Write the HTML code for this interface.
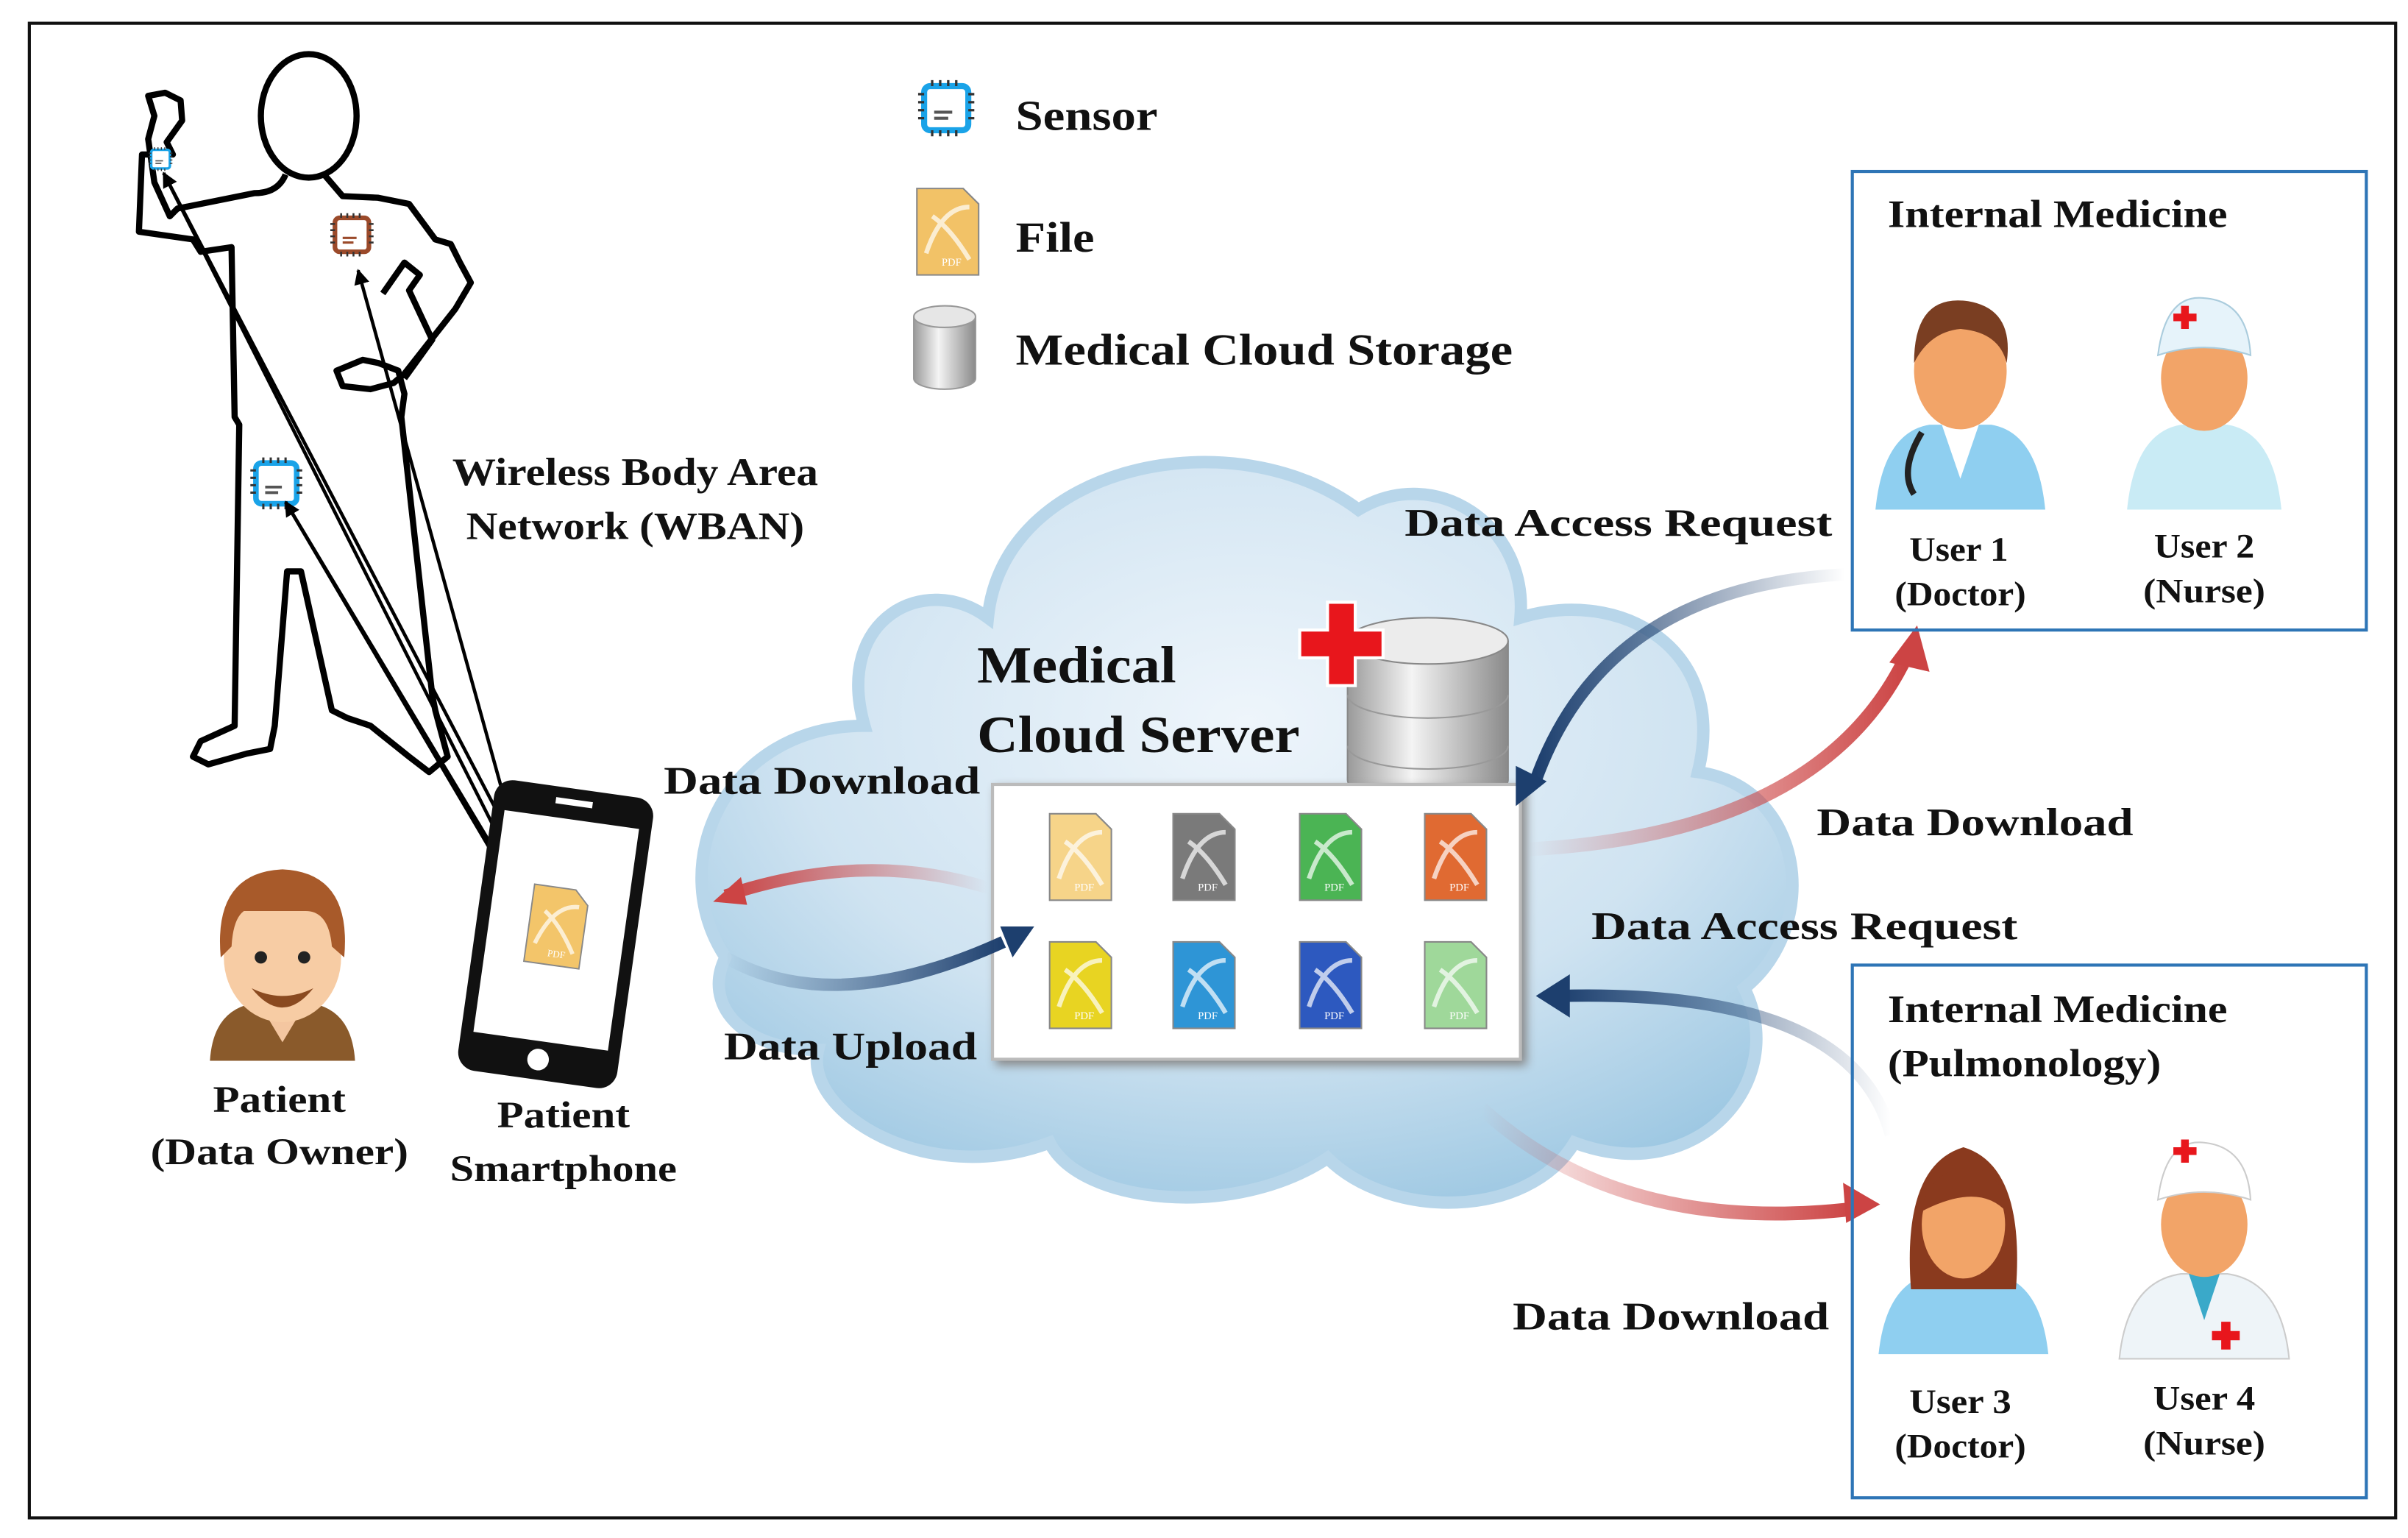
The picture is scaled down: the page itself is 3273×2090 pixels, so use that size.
<!DOCTYPE html>
<html><head><meta charset="utf-8">
<style>
html,body{margin:0;padding:0;background:#fff;}
svg{display:block;}
text{font-family:"Liberation Serif",serif;font-weight:bold;fill:#111;}
</style></head><body>
<svg width="3273" height="2090" viewBox="0 0 1560 996" xmlns="http://www.w3.org/2000/svg">
<defs>
<radialGradient id="cl" cx="0.5" cy="0.35" r="0.7">
<stop offset="0" stop-color="#eef5fb"/><stop offset="0.6" stop-color="#cfe3f1"/><stop offset="1" stop-color="#9cc7e2"/></radialGradient>
<linearGradient id="cyl" x1="0" x2="1"><stop offset="0" stop-color="#9a9a9a"/><stop offset="0.4" stop-color="#f4f4f4"/><stop offset="1" stop-color="#8a8a8a"/></linearGradient>
<linearGradient id="redR" x1="0" x2="1"><stop offset="0" stop-color="#c44" stop-opacity="0"/><stop offset="1" stop-color="#c44"/></linearGradient>
<linearGradient id="redL" x1="1" x2="0"><stop offset="0" stop-color="#c44" stop-opacity="0"/><stop offset="1" stop-color="#c44"/></linearGradient>
<linearGradient id="blueL" x1="1" x2="0"><stop offset="0" stop-color="#1d3f6e" stop-opacity="0"/><stop offset="1" stop-color="#1d3f6e"/></linearGradient>
<linearGradient id="blueR" x1="0" x2="1"><stop offset="0" stop-color="#1d3f6e" stop-opacity="0"/><stop offset="1" stop-color="#1d3f6e"/></linearGradient>
<marker id="ah" markerWidth="10" markerHeight="10" refX="9" refY="5" orient="auto" markerUnits="userSpaceOnUse"><path d="M0,0 L10,5 L0,10 z" fill="#000"/></marker>
<g id="chip"><rect x="-11" y="-11" width="22" height="22" rx="3" fill="#fff" stroke="#1aa3e8" stroke-width="3"/><path d="M-14,-7h3M-14,-3h3M-14,1h3M-14,5h3M11,-7h3M11,-3h3M11,1h3M11,5h3M-7,-14v3M-3,-14v3M1,-14v3M5,-14v3M-7,11v3M-3,11v3M1,11v3M5,11v3" stroke="#333" stroke-width="1.2"/><path d="M-6,2h9M-6,5h7" stroke="#555" stroke-width="1.5"/></g>
<g id="pdf"><path d="M-20,-28 h30 l10,10 v46 h-40z" stroke="#888" stroke-width="1"/><path d="M-14,14 q10,-30 28,-30 M-10,-10 q12,8 24,28" stroke="#fff" stroke-width="3" fill="none" opacity="0.7"/><text x="-4" y="22" font-size="7" style="font-weight:normal;fill:#fff">PDF</text></g>
</defs>
<rect x="19" y="15" width="1533" height="968" fill="#fff" stroke="#111" stroke-width="2"/>

<!-- human figure -->
<g fill="none" stroke="#000" stroke-width="4" stroke-linejoin="round">
<ellipse cx="200" cy="75" rx="31" ry="40"/>
<path d="M185,113 Q180,125 165,125 L115,135 L110,140 L100,118 L96,90 L100,75 L96,62 L107,60 L117,65 L118,78 L108,92 L112,100 L92,100 L90,150 L125,155 L130,163 L150,160 L152,270 L155,275 L152,470 L130,480 L125,490 L135,495 L160,488 L175,485 L178,470 L186,370 L195,370 L215,460 L225,465 L240,470 L265,490 L278,500 L290,490 L282,460 L280,450 L260,270 L262,255 L258,240 L245,235 L235,233 L218,240 L222,250 L240,252 L255,248 L262,242 L295,200 L305,183 L298,170 L292,158 L282,155 L265,132 L245,128 L222,127 L210,113"/>
<path d="M248,190 L262,170 L272,178 L265,188 L280,220 L262,245"/>
</g>
<!-- sensors on body -->
<g transform="translate(104 103) scale(0.55)"><use href="#chip"/></g>
<g transform="translate(228 152)"><rect x="-11" y="-11" width="22" height="22" rx="3" fill="#fff" stroke="#9b4a2a" stroke-width="3"/><path d="M-14,-7h3M-14,-3h3M-14,1h3M-14,5h3M11,-7h3M11,-3h3M11,1h3M11,5h3M-7,-14v3M-3,-14v3M1,-14v3M5,-14v3M-7,11v3M-3,11v3M1,11v3M5,11v3" stroke="#333" stroke-width="1.2"/><path d="M-6,2h9M-6,5h7" stroke="#9b4a2a" stroke-width="1.5"/></g>
<g transform="translate(179 313) scale(1.2)"><use href="#chip"/></g>

<!-- arrows body <-> phone -->
<g stroke="#000" stroke-width="2.2" fill="none">
<line x1="340" y1="560" x2="106" y2="112" marker-end="url(#ah)"/>
<line x1="355" y1="605" x2="106" y2="112"/>
<line x1="340" y1="565" x2="232" y2="175" marker-end="url(#ah)"/>
<line x1="335" y1="575" x2="185" y2="325" marker-end="url(#ah)"/>
<line x1="185" y1="325" x2="350" y2="605" marker-end="url(#ah)"/>
</g>

<!-- legend -->
<g transform="translate(613 70) scale(1.3)"><use href="#chip"/></g>
<text x="658" y="84" font-size="28" textLength="92" lengthAdjust="spacingAndGlyphs">Sensor</text>
<g transform="translate(614 150)" fill="#f2c267"><use href="#pdf"/></g>
<text x="658" y="163" font-size="28" textLength="51" lengthAdjust="spacingAndGlyphs">File</text>
<g transform="translate(612 225)"><path d="M-20,-20 v40 a20,7 0 0 0 40,0 v-40" fill="url(#cyl)" stroke="#999"/><ellipse cx="0" cy="-20" rx="20" ry="7" fill="#e6e6e6" stroke="#999"/></g>
<text x="658" y="236" font-size="29" textLength="322" lengthAdjust="spacingAndGlyphs">Medical Cloud Storage</text>

<text x="293" y="314" font-size="25" textLength="237" lengthAdjust="spacingAndGlyphs">Wireless  Body Area</text>
<text x="302" y="349" font-size="25" textLength="219" lengthAdjust="spacingAndGlyphs">Network (WBAN)</text>

<!-- cloud -->
<path d="M470,620 C430,560 470,470 560,470 C540,400 600,370 640,400 C650,300 800,270 880,330 C930,300 990,340 985,400 C1050,380 1120,420 1100,500 C1170,510 1180,600 1130,640 C1160,700 1100,770 1020,740 C990,790 900,790 860,750 C800,790 700,780 680,740 C600,770 520,720 530,680 C480,680 455,650 470,620 Z" fill="url(#cl)" stroke="#b8d6ea" stroke-width="8"/>
<text x="633" y="442" font-size="34" textLength="129" lengthAdjust="spacingAndGlyphs">Medical</text>
<text x="633" y="487" font-size="34" textLength="209" lengthAdjust="spacingAndGlyphs">Cloud Server</text>
<g transform="translate(925 415)"><path d="M-52,0 v90 a52,15 0 0 0 104,0 v-90" fill="url(#cyl)" stroke="#888"/><path d="M-52,35 a52,15 0 0 0 104,0 M-52,68 a52,15 0 0 0 104,0" fill="none" stroke="#999"/><ellipse cx="0" cy="0" rx="52" ry="15" fill="#ececec" stroke="#888"/></g>
<path d="M860,390 h18 v18 h18 v18 h-18 v18 h-18 v-18 h-18 v-18 h18z" fill="#e8161c" stroke="#fff" stroke-width="2"/>

<rect x="643" y="508" width="342" height="178" fill="#fff" stroke="#bbb" stroke-width="2" style="filter:drop-shadow(3px 3px 3px #888)"/>
<g transform="translate(700 555)" fill="#f6d489"><use href="#pdf"/></g>
<g transform="translate(780 555)" fill="#7a7a7a"><use href="#pdf"/></g>
<g transform="translate(862 555)" fill="#4bb454"><use href="#pdf"/></g>
<g transform="translate(943 555)" fill="#e06a32"><use href="#pdf"/></g>
<g transform="translate(700 638)" fill="#e8d422"><use href="#pdf"/></g>
<g transform="translate(780 638)" fill="#2e95d6"><use href="#pdf"/></g>
<g transform="translate(862 638)" fill="#2d59bf"><use href="#pdf"/></g>
<g transform="translate(943 638)" fill="#9fd89a"><use href="#pdf"/></g>

<!-- flows -->
<path d="M640,575 Q560,550 470,580" stroke="url(#redL)" stroke-width="8" fill="none"/>
<path d="M462,584 l18,-16 l4,18z" fill="#c44"/>
<path d="M470,620 Q540,660 650,610" stroke="url(#blueR)" stroke-width="8" fill="none"/>
<path d="M670,600 l-22,0 l8,20z" fill="#1d3f6e"/>
<path d="M1195,372 Q1040,380 995,505" stroke="url(#blueL)" stroke-width="8" fill="none"/>
<path d="M982,522 l0,-26 l20,10z" fill="#1d3f6e"/>
<path d="M990,550 Q1180,540 1235,425" stroke="url(#redR)" stroke-width="9" fill="none"/>
<path d="M1242,405 l8,30 l-26,-6z" fill="#c44"/>
<path d="M1225,735 Q1200,640 1010,645" stroke="url(#blueL)" stroke-width="8" fill="none"/>
<path d="M995,645 l22,-14 l0,28z" fill="#1d3f6e"/>
<path d="M960,718 Q1050,800 1200,783" stroke="url(#redR)" stroke-width="9" fill="none"/>
<path d="M1218,780 l-24,-14 l2,26z" fill="#c44"/>

<text x="430" y="514" font-size="25" textLength="205" lengthAdjust="spacingAndGlyphs">Data Download</text>
<text x="469" y="686" font-size="25" textLength="164" lengthAdjust="spacingAndGlyphs">Data Upload</text>
<text x="910" y="347" font-size="25" textLength="277" lengthAdjust="spacingAndGlyphs">Data Access Request</text>
<text x="1177" y="541" font-size="25" textLength="205" lengthAdjust="spacingAndGlyphs">Data Download</text>
<text x="1031" y="608" font-size="25" textLength="276" lengthAdjust="spacingAndGlyphs">Data Access Request</text>
<text x="980" y="861" font-size="25" textLength="205" lengthAdjust="spacingAndGlyphs">Data Download</text>

<!-- patient -->
<g transform="translate(183 625)">
<path d="M-47,62 Q-45,30 -20,25 L20,25 Q45,30 47,62z" fill="#8a5a2b"/>
<path d="M-15,25 L0,50 L15,25z" fill="#f4c6a0"/>
<ellipse cx="0" cy="-5" rx="38" ry="42" fill="#f7cca4"/>
<path d="M-40,-5 Q-45,-60 0,-62 Q45,-60 40,-5 L32,-12 Q30,-35 15,-35 L-25,-35 Q-32,-30 -33,-12z" fill="#a85a2a"/>
<path d="M-20,15 Q0,40 20,15 Q0,25 -20,15z" fill="#8a4a20"/>
<circle cx="-14" cy="-5" r="4" fill="#222"/><circle cx="14" cy="-5" r="4" fill="#222"/>
</g>
<text x="181" y="720" font-size="24" text-anchor="middle" textLength="86" lengthAdjust="spacingAndGlyphs">Patient</text>
<text x="181" y="754" font-size="24" text-anchor="middle" textLength="167" lengthAdjust="spacingAndGlyphs">(Data Owner)</text>

<!-- phone -->
<g transform="translate(360 605) rotate(8)">
<rect x="-52" y="-95" width="104" height="190" rx="12" fill="#111"/>
<rect x="-44" y="-75" width="88" height="145" fill="#fff"/>
<circle cx="0" cy="82" r="7" fill="#fff"/>
<rect x="-12" y="-88" width="24" height="4" fill="#fff"/>
<g transform="translate(0 -5) scale(0.9)" fill="#f3c56a"><use href="#pdf"/></g>
</g>
<text x="365" y="730" font-size="24" text-anchor="middle" textLength="86" lengthAdjust="spacingAndGlyphs">Patient</text>
<text x="365" y="765" font-size="24" text-anchor="middle" textLength="147" lengthAdjust="spacingAndGlyphs">Smartphone</text>

<!-- right boxes -->
<rect x="1200" y="111" width="333" height="297" fill="none" stroke="#2e75b6" stroke-width="2"/>
<text x="1223" y="147" font-size="25" textLength="220" lengthAdjust="spacingAndGlyphs">Internal Medicine</text>
<rect x="1200" y="625" width="333" height="345" fill="none" stroke="#2e75b6" stroke-width="2"/>
<text x="1223" y="662" font-size="25" textLength="220" lengthAdjust="spacingAndGlyphs">Internal Medicine</text>
<text x="1223" y="697" font-size="25" textLength="177" lengthAdjust="spacingAndGlyphs">(Pulmonology)</text>

<!-- users -->
<g transform="translate(1270 265)">
<path d="M-55,65 Q-50,15 -20,10 L20,10 Q50,15 55,65z" fill="#8fcff0"/>
<path d="M-12,10 L0,45 L12,10z" fill="#fff"/>
<ellipse cx="0" cy="-25" rx="30" ry="38" fill="#f2a468"/>
<path d="M-30,-30 Q-30,-75 5,-70 Q35,-65 30,-30 Q25,-50 0,-52 Q-20,-50 -30,-30z" fill="#7a3e22"/>
<path d="M-25,15 Q-40,40 -30,55" stroke="#222" stroke-width="4" fill="none"/>
</g>
<g transform="translate(1428 265)">
<path d="M-50,65 Q-45,15 -15,10 L15,10 Q45,15 50,65z" fill="#c9ebf5"/>
<ellipse cx="0" cy="-20" rx="28" ry="34" fill="#f2a468"/>
<path d="M-30,-35 Q-25,-75 0,-72 Q28,-70 30,-35 Q0,-45 -30,-35z" fill="#e6f3fa" stroke="#aaccdd"/>
<path d="M-20,-62 h5 v-5 h5 v5 h5 v5 h-5 v5 h-5 v-5 h-5z" fill="#e8161c"/>
</g>
<text x="1269" y="363" font-size="22" text-anchor="middle" textLength="64" lengthAdjust="spacingAndGlyphs">User 1</text>
<text x="1270" y="392" font-size="22" text-anchor="middle" textLength="85" lengthAdjust="spacingAndGlyphs">(Doctor)</text>
<text x="1428" y="361" font-size="22" text-anchor="middle" textLength="65" lengthAdjust="spacingAndGlyphs">User 2</text>
<text x="1428" y="390" font-size="22" text-anchor="middle" textLength="79" lengthAdjust="spacingAndGlyphs">(Nurse)</text>

<g transform="translate(1272 815)">
<path d="M-55,62 Q-50,15 -20,10 L20,10 Q50,15 55,62z" fill="#8fcff0"/>
<path d="M-34,20 Q-40,-60 0,-72 Q40,-60 34,20z" fill="#8a3a1e"/>
<ellipse cx="0" cy="-22" rx="27" ry="35" fill="#f2a468"/>
<path d="M-28,-30 Q-20,-62 10,-58 Q28,-50 28,-30 Q10,-50 -28,-30z" fill="#8a3a1e"/>
</g>
<g transform="translate(1428 815)">
<path d="M-55,65 Q-50,15 -15,10 L15,10 Q50,15 55,65z" fill="#eef4f8" stroke="#ccc"/>
<path d="M-10,10 L0,40 L10,10z" fill="#3aa9c9"/>
<ellipse cx="0" cy="-22" rx="28" ry="34" fill="#f2a468"/>
<path d="M-30,-38 Q-25,-78 0,-75 Q28,-72 30,-38 Q0,-48 -30,-38z" fill="#fff" stroke="#ccc"/>
<path d="M-20,-72 h5 v-5 h5 v5 h5 v5 h-5 v5 h-5 v-5 h-5z" fill="#e8161c"/>
<path d="M5,47 h6 v-6 h6 v6 h6 v6 h-6 v6 h-6 v-6 h-6z" fill="#e8161c"/>
</g>
<text x="1270" y="915" font-size="22" text-anchor="middle" textLength="66" lengthAdjust="spacingAndGlyphs">User 3</text>
<text x="1270" y="944" font-size="22" text-anchor="middle" textLength="85" lengthAdjust="spacingAndGlyphs">(Doctor)</text>
<text x="1428" y="913" font-size="22" text-anchor="middle" textLength="66" lengthAdjust="spacingAndGlyphs">User 4</text>
<text x="1428" y="942" font-size="22" text-anchor="middle" textLength="79" lengthAdjust="spacingAndGlyphs">(Nurse)</text>
</svg>
</body></html>
